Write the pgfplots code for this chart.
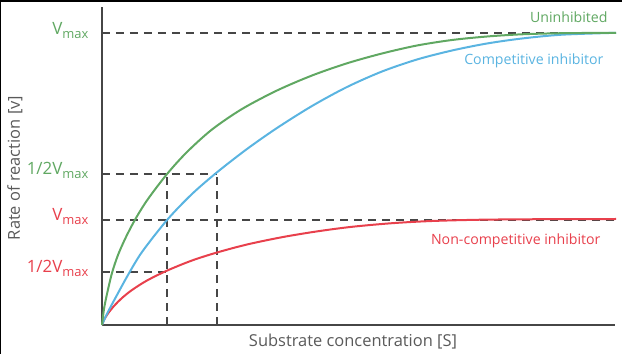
\documentclass[border=0pt]{standalone}
\usepackage{pgfplots}
\pgfplotsset{compat=1.18}
\usepackage{fontspec}
\setmainfont{Open Sans}
\definecolor{cgreen}{RGB}{96,168,98}
\definecolor{cblue}{RGB}{90,180,225}
\definecolor{cred}{RGB}{232,64,76}
\definecolor{dashgray}{RGB}{70,70,70}
\definecolor{axisgray}{RGB}{70,70,70}
\definecolor{labgray}{RGB}{90,90,90}
\newcommand{\vmax}{V\raisebox{-4bp}{\fontsize{13}{13}\selectfont max}}
\begin{document}
\begin{tikzpicture}
\path[use as bounding box] (-102bp,-29bp) rectangle (520bp,325bp);
\draw[black,line width=1.5bp] (-101.25bp,-29bp) -- (-101.25bp,324bp) -- (520bp,324bp);
\begin{axis}[scale only axis, width=513bp, height=318bp,
  xmin=0, xmax=513, ymin=0, ymax=318,
  axis lines=left, axis line style={-, draw=axisgray, line width=1.8bp},
  ticks=none, clip=false]
% dashed guide lines
\addplot[dashgray, line width=1.8bp, dash pattern=on 8bp off 6bp] coordinates {(0,291.7) (513,291.7)};
\addplot[dashgray, line width=1.8bp, dash pattern=on 8bp off 6bp] coordinates {(0,105.3) (513,105.3)};
\addplot[dashgray, line width=1.8bp, dash pattern=on 8bp off 6bp] coordinates {(0,151.3) (115,151.3)};
\addplot[dashgray, line width=1.8bp, dash pattern=on 8bp off 6bp] coordinates {(0,53.3) (65.3,53.3)};
\addplot[dashgray, line width=1.8bp, dash pattern=on 8bp off 6bp] coordinates {(65.3,0) (65.3,151.3)};
\addplot[dashgray, line width=1.8bp, dash pattern=on 8bp off 6bp] coordinates {(115,0) (115,151.3)};
% curves
\addplot[cred, line width=2bp, smooth] coordinates {
(0,0) (2,5) (6,11.5) (12,19) (20,27) (30,35) (45,44.5) (65.3,54.5) (90,64.5) (115,72.5) (145,80.5) (180,87.8) (215,93.6) (250,98.2) (290,101.8) (330,104) (380,105.3) (440,105.8) (514,106)};
\addplot[cblue, line width=2bp, smooth] coordinates {
(0,0) (3,7) (8,17) (15,30) (26,50) (40,73) (65.3,105.3) (90,131) (115,152.7) (145,176) (175,197) (210,219) (245,238) (280,253.5) (315,265.5) (350,274.5) (385,281.5) (420,286.5) (460,290.3) (514,292.2)};
\addplot[cgreen, line width=2bp, smooth] coordinates {
(0,0) (2,16) (5,31) (10,52) (16,70) (24,88) (34,107) (46,126) (65.3,151.3) (85,173) (110,195.5) (140,216) (175,234.5) (210,249.5) (245,261.7) (280,271.5) (315,279.5) (350,285) (385,288.5) (420,290.7) (460,291.8) (514,292.2)};
% value labels
\node[anchor=east, text=cgreen, xshift=-10bp, yshift=3bp] at (axis cs:0,291.7) {\fontsize{17}{17}\selectfont\vmax};
\node[anchor=east, text=cgreen, xshift=-10bp, yshift=3bp] at (axis cs:0,151.3) {\fontsize{17}{17}\selectfont 1/2\vmax};
\node[anchor=east, text=cred, xshift=-10bp, yshift=3bp] at (axis cs:0,105.3) {\fontsize{17}{17}\selectfont\vmax};
\node[anchor=east, text=cred, xshift=-10bp, yshift=3bp] at (axis cs:0,53.3) {\fontsize{17}{17}\selectfont 1/2\vmax};
% series labels
\node[anchor=east, text=cgreen, font=\fontsize{14.2}{14.2}\selectfont] at (axis cs:509,308) {Uninhibited};
\node[anchor=east, text=cblue, font=\fontsize{14.2}{14.2}\selectfont] at (axis cs:505,264) {Competitive inhibitor};
\node[anchor=east, text=cred, font=\fontsize{14.2}{14.2}\selectfont] at (axis cs:502,84) {Non-competitive inhibitor};
% axis titles
\node[rotate=90, text=labgray, font=\fontsize{16.5}{16.5}\selectfont] at (axis cs:-87,157) {Rate of reaction [v]};
\node[text=labgray, font=\fontsize{16.5}{16.5}\selectfont] at (axis cs:251,-17) {Substrate concentration [S]};
\end{axis}
\end{tikzpicture}
\end{document}
